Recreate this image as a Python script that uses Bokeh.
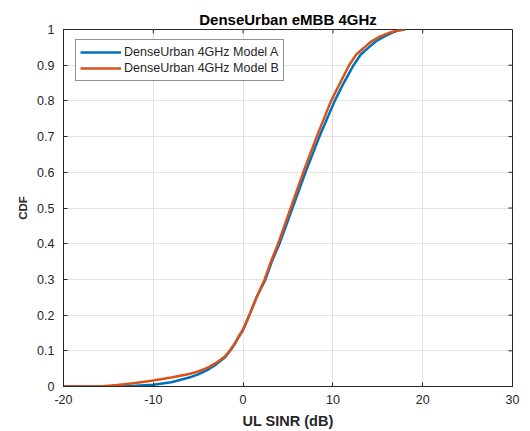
from bokeh.plotting import figure
from bokeh.models import FixedTicker, Legend, LegendItem, Range1d
from bokeh.embed import file_html
from bokeh.resources import INLINE

# Data
sinr_a = [-20, -14, -12, -10, -8, -6, -5, -4, -3, -2, -1.5, -1, -0.5, 0, 0.7, 1.5, 2.5, 3.2,
          4.05, 5.5, 6.95, 8.5, 10.2, 11.2, 12.3, 13.1, 14.0, 14.8, 15.7, 16.5, 17.2, 18.0]
cdf_a = [0, 0, 0.002, 0.005, 0.012, 0.025, 0.034, 0.046, 0.062, 0.082, 0.098, 0.116, 0.138,
         0.158, 0.2, 0.25, 0.3, 0.35, 0.4, 0.5, 0.6, 0.7, 0.8, 0.85, 0.9, 0.93, 0.95, 0.967,
         0.98, 0.99, 0.997, 1.0]
sinr_b = [-20, -16, -14, -12, -10, -8, -6, -5, -4, -3, -2, -1.5, -1, -0.5, 0, 0.7, 1.5, 2.4,
          3.1, 3.9, 5.3, 6.7, 8.2, 9.8, 10.8, 11.8, 12.6, 13.5, 14.3, 15.2, 16.2, 17.2, 18.0]
cdf_b = [0, 0, 0.004, 0.010, 0.017, 0.025, 0.035, 0.042, 0.052, 0.066, 0.085, 0.1, 0.118,
         0.14, 0.16, 0.2, 0.25, 0.3, 0.35, 0.4, 0.5, 0.6, 0.7, 0.8, 0.85, 0.9, 0.93, 0.95,
         0.967, 0.98, 0.99, 0.997, 1.0]
series_names = ["DenseUrban 4GHz Model A", "DenseUrban 4GHz Model B"]
x_ticks = [-20, -10, 0, 10, 20, 30]
x_tick_labels = ["-20", "-10", "0", "10", "20", "30"]
y_ticks = [0, 0.1, 0.2, 0.3, 0.4, 0.5, 0.6, 0.7, 0.8, 0.9, 1]
y_tick_labels = ["0", "0.1", "0.2", "0.3", "0.4", "0.5", "0.6", "0.7", "0.8", "0.9", "1"]
title_text = "DenseUrban eMBB 4GHz"
x_label = "UL SINR (dB)"
y_label = "CDF"

FONT = "Liberation Sans"
TXT = "#262626"
AX = "#262626"
X0, X1, Y0, Y1 = -20, 30, 0, 1
FW, FH = 449, 360  # frame size in px
TICK = 4

p = figure(width=522, height=431, output_backend="svg", toolbar_location=None,
           x_range=Range1d(X0, X1), y_range=Range1d(Y0, Y1),
           min_border_left=63, min_border_right=10, min_border_top=29, min_border_bottom=42)

p.title.text = title_text
p.title.align = "center"
p.title.text_font = FONT
p.title.text_font_size = "15px"
p.title.text_font_style = "bold"
p.title.text_color = "#000000"
p.title.standoff = 3

p.outline_line_color = AX
p.outline_line_width = 1
p.background_fill_color = "white"
p.border_fill_color = "white"

p.xgrid.ticker = FixedTicker(ticks=x_ticks)
p.ygrid.ticker = FixedTicker(ticks=y_ticks)
p.grid.grid_line_color = "#e3e3e3"
p.grid.grid_line_width = 1

ra = p.line(sinr_a, cdf_a, line_color="#0072BD", line_width=2.5)
rb = p.line(sinr_b, cdf_b, line_color="#D95319", line_width=2.5)

for ax in [p.xaxis[0], p.yaxis[0]]:
    ax.major_tick_in = TICK
    ax.major_tick_out = 0
    ax.minor_tick_in = 0
    ax.minor_tick_out = 0
    ax.axis_line_color = AX
    ax.major_tick_line_color = AX
    ax.major_label_text_font = FONT
    ax.major_label_text_font_size = "12.5px"
    ax.major_label_text_color = TXT
    ax.axis_label_text_font = FONT
    ax.axis_label_text_font_style = "bold"
    ax.axis_label_text_color = TXT

p.xaxis.ticker = FixedTicker(ticks=x_ticks)
p.yaxis.ticker = FixedTicker(ticks=y_ticks)
p.xaxis.major_label_overrides = {t: l for t, l in zip(x_ticks, x_tick_labels)}
p.yaxis.major_label_overrides = {t: l for t, l in zip(y_ticks, y_tick_labels)}
p.xaxis.axis_label = x_label
p.yaxis.axis_label = y_label
p.xaxis.axis_label_text_font_size = "14.5px"
p.yaxis.axis_label_text_font_size = "11.5px"
p.xaxis.axis_label_standoff = 6
p.yaxis.axis_label_standoff = 5
p.xaxis.major_label_standoff = 8
p.yaxis.major_label_standoff = 9

# right / top tick marks (box style)
dx = TICK * (X1 - X0) / FW
dy = TICK * (Y1 - Y0) / FH
p.segment(x0=[X1] * len(y_ticks), y0=y_ticks, x1=[X1 - dx] * len(y_ticks), y1=y_ticks,
          line_color=AX, line_width=1)
p.segment(x0=x_ticks, y0=[Y1] * len(x_ticks), x1=x_ticks, y1=[Y1 - dy] * len(x_ticks),
          line_color=AX, line_width=1)

PAD, ROW = 4, 16
leg_h = 2 * PAD + ROW * len(series_names)
legend = Legend(items=[LegendItem(label=series_names[0], renderers=[ra]),
                       LegendItem(label=series_names[1], renderers=[rb])],
                location=(12, FH - 15 - leg_h))
legend.margin = 0
legend.padding = PAD
legend.spacing = 0
legend.glyph_width = 41
legend.glyph_height = ROW
legend.label_height = ROW
legend.label_standoff = 3
legend.label_text_font = FONT
legend.label_text_font_size = "12.5px"
legend.label_text_color = TXT
legend.border_line_color = AX
legend.border_line_width = 1
legend.background_fill_alpha = 1
p.add_layout(legend, "center")

open("out.html", "w").write(file_html(p, INLINE))
